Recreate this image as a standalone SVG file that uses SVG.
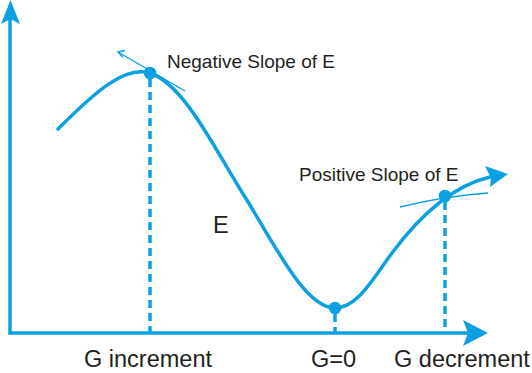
<svg xmlns="http://www.w3.org/2000/svg" width="532" height="373" viewBox="0 0 532 373">
<style>
.ax{fill:none;stroke:#0aa0e2;stroke-width:3.5}
.crv{fill:none;stroke:#0aa0e2;stroke-width:3.5;stroke-linecap:round}
.dash{fill:none;stroke:#0aa0e2;stroke-width:3.5;stroke-dasharray:8 5}
.thin{fill:none;stroke:#0aa0e2;stroke-width:1.4}
.hd{fill:#0aa0e2}
.dot{fill:#0aa0e2}
text{font-family:"Liberation Sans",Arial,sans-serif;fill:#231f20}
.s{font-size:19px}
.b{font-size:23.5px}
</style>
<rect width="532" height="373" fill="#fff"/>
<g id="axes">
<path class="ax" d="M10,18 V333 H468"/>
<polygon class="hd" points="10.5,0 20,24 10.5,19 1,24"/>
<polygon class="hd" points="488,333 463,320 468,333 463,346"/>
</g>
<g id="connectors">
<path class="dash" d="M150,79 V333"/>
<path class="dash" d="M335,314 V333"/>
<path class="dash" d="M445,202 V333"/>
</g>
<g id="curve-E">
<path class="crv" d="M58,129 C95,92 125,65 150,73 C185,85 215,150 245,197 C275,245 305,308 335,308 C357,308 372,280 392,253 C418,218 452,186 490,177"/>
<polygon class="hd" points="508,174 485,166 491,178 490,187"/>
</g>
<g id="tangent-neg">
<path class="thin" d="M118,52 L185,91"/>
<path class="thin" d="M125,50.5 L118,52 L123,57.5"/>
</g>
<g id="tangent-pos">
<path class="thin" d="M400,207 Q445,196 488,193"/>
</g>
<g id="dots">
<circle class="dot" cx="150" cy="73" r="6.3"/>
<circle class="dot" cx="335" cy="308" r="6.3"/>
<circle class="dot" cx="445" cy="196" r="6.3"/>
</g>
<g id="labels">
<text class="s" x="167" y="68">Negative Slope of E</text>
<text class="s" x="299" y="181">Positive Slope of E</text>
<text class="b" x="213" y="233">E</text>
<text class="b" x="84" y="367">G increment</text>
<text class="b" x="311" y="367">G=0</text>
<text class="b" x="394" y="367">G decrement</text>
</g>
</svg>
